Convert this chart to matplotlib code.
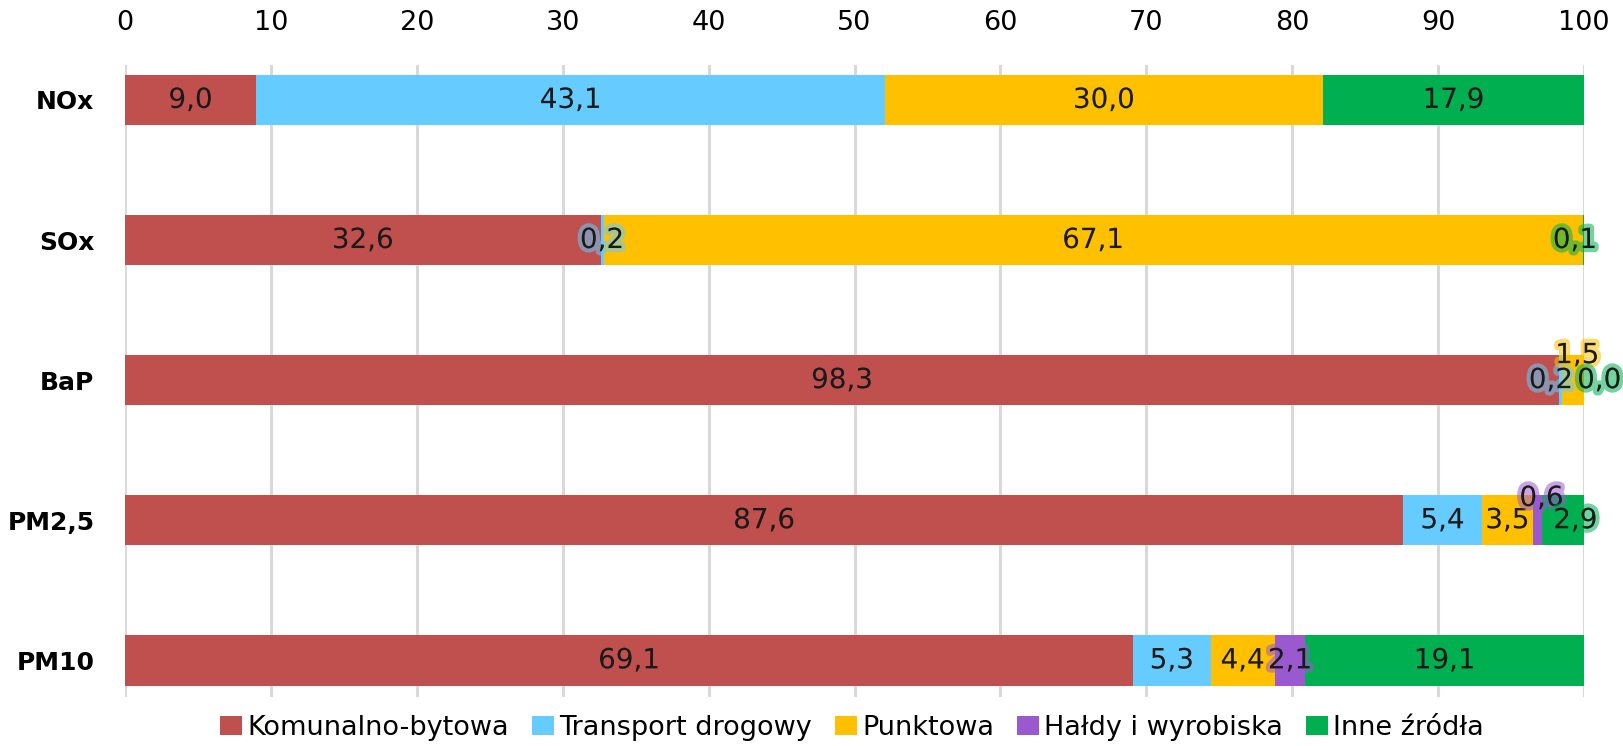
import numpy as np
import matplotlib
matplotlib.use('Agg')
import matplotlib.pyplot as plt
import matplotlib.patheffects as pe

plt.rcParams['font.family'] = ['DejaVu Sans']

categories = ['NOx', 'SOx', 'BaP', 'PM2,5', 'PM10']
series_names = ['Komunalno-bytowa', 'Transport drogowy', 'Punktowa',
                'Hałdy i wyrobiska', 'Inne źródła']

komunalne = [9.0, 32.6, 98.3, 87.6, 69.1]
transport = [43.1, 0.2, 0.2, 5.4, 5.3]
punktowa = [30.0, 67.1, 1.5, 3.5, 4.4]
haldy = [np.nan, np.nan, np.nan, 0.6, 2.1]
inne = [17.9, 0.1, 0.0, 2.9, 19.1]

colors = ['#C0504D', '#66CCFF', '#FFC000', '#9B59CF', '#00B050']

# label nudges (points) for the tiny segments, like Excel moved them
nudges = {
    (1, 4): (-6, 0),
    (2, 1): (-7, 0),
    (2, 2): (3, 18),
    (2, 4): (11, 0),
    (3, 3): (3, 16),
    (3, 4): (9, 0),
}

data = [komunalne, transport, punktowa, haldy, inne]

fig = plt.figure(figsize=(16.23, 7.46), dpi=100)
ax = fig.add_axes([0.077, 0.066, 0.899, 0.847])

y = np.arange(len(categories))
left = np.zeros(len(categories))
for si, (vals, col, name) in enumerate(zip(data, colors, series_names)):
    v = np.nan_to_num(np.array(vals, dtype=float))
    ax.barh(y, v, left=left, height=0.36, color=col, label=name, zorder=2)
    for ci, val in enumerate(vals):
        if np.isnan(val):
            continue
        dx, dy = nudges.get((ci, si), (0, 0))
        txt = ax.annotate(f'{val:.1f}'.replace('.', ','),
                          xy=(left[ci] + v[ci] / 2, y[ci]),
                          xytext=(dx, dy), textcoords='offset points',
                          ha='center', va='center', fontsize=20,
                          color='#1a1a1a', zorder=5, annotation_clip=False)
        txt.set_path_effects([pe.withStroke(linewidth=6, foreground=col, alpha=0.55)])
    left += v

ax.set_xlim(0, 100)
ax.set_ylim(4.26, -0.25)
ax.set_xticks(np.arange(0, 101, 10))
ax.xaxis.tick_top()
ax.tick_params(axis='x', length=0, labelsize=19.5, pad=21)
ax.tick_params(axis='y', length=0, labelsize=18, pad=22)
ax.set_yticks(y)
ax.set_yticklabels(categories, fontweight='bold')
ax.xaxis.grid(True, color='#D9D9D9', linewidth=2.2, zorder=0)
ax.set_axisbelow(True)
for s in ax.spines.values():
    s.set_visible(False)

fig.legend(loc='lower center', bbox_to_anchor=(0.525, 0.003), ncol=5, frameon=False,
           fontsize=19.5, handlelength=0.8, handleheight=0.67, handletextpad=0.2,
           columnspacing=0.85, borderaxespad=0.0, borderpad=0.1)

fig.savefig('out.png', dpi=100)
